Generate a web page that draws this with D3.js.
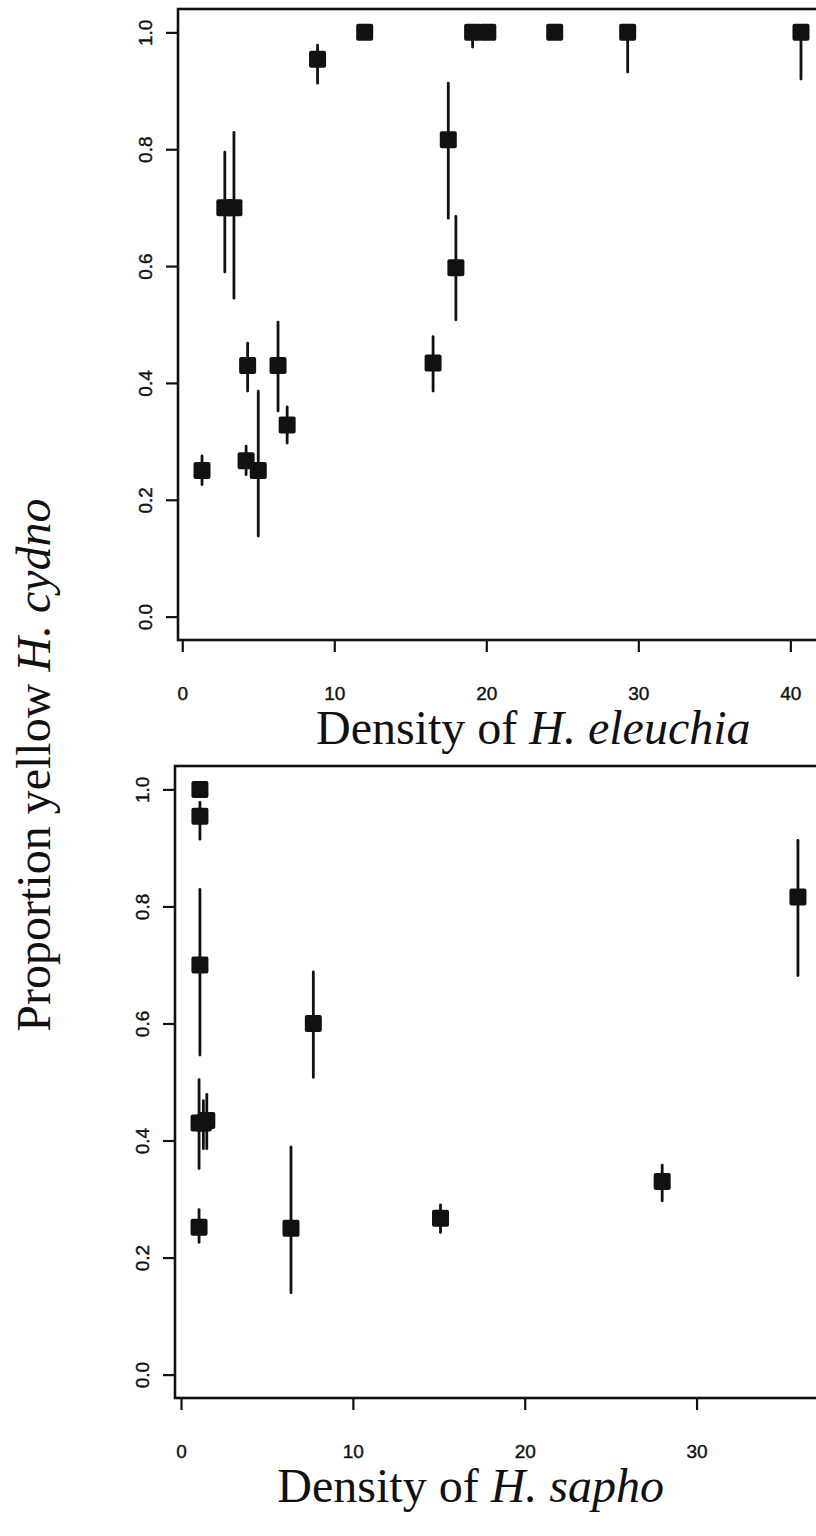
<!DOCTYPE html>
<html>
<head>
<meta charset="utf-8">
<script src="https://cdn.jsdelivr.net/npm/d3@7"></script>
<style>
  body { margin: 0; background: #fff; }
  svg { display: block; }
</style>
</head>
<body>
<div id="chart"></div>
<script>
// top panel: proportion yellow vs density of H. eleuchia
const eleuchiaX  = [1.3, 2.8, 3.4, 4.3, 4.2, 5.0, 6.3, 6.9, 8.9, 12.0, 16.5, 17.5, 18.0, 19.1, 20.1, 24.5, 29.3, 40.7];
const eleuchiaY  = [0.25, 0.70, 0.70, 0.43, 0.267, 0.25, 0.43, 0.328, 0.954, 1.0, 0.434, 0.816, 0.597, 1.0, 1.0, 1.0, 1.0, 1.0];
const eleuchiaLo = [0.226, 0.59, 0.545, 0.386, 0.243, 0.138, 0.352, 0.297, 0.913, 1.0, 0.386, 0.682, 0.508, 0.975, 1.0, 1.0, 0.932, 0.92];
const eleuchiaHi = [0.275, 0.795, 0.829, 0.468, 0.292, 0.386, 0.504, 0.359, 0.978, 1.0, 0.479, 0.913, 0.685, 1.0, 1.0, 1.0, 1.0, 1.0];

// bottom panel: proportion yellow vs density of H. sapho
const saphoX  = [1.1, 1.1, 1.1, 1.05, 1.3, 1.5, 1.05, 6.4, 7.7, 15.1, 28.0, 35.9];
const saphoY  = [1.0, 0.954, 0.70, 0.43, 0.43, 0.434, 0.252, 0.25, 0.60, 0.267, 0.33, 0.816];
const saphoLo = [1.0, 0.915, 0.546, 0.352, 0.386, 0.386, 0.226, 0.140, 0.508, 0.243, 0.297, 0.682];
const saphoHi = [1.0, 0.978, 0.829, 0.504, 0.468, 0.479, 0.282, 0.389, 0.688, 0.290, 0.358, 0.913];

const xTicksTop = [0, 10, 20, 30, 40];
const xTicksBottom = [0, 10, 20, 30];
const yTicks = [0, 0.2, 0.4, 0.6, 0.8, 1.0];

const width = 816, height = 1536;
const ink = "#111";
const sans = "'Liberation Sans', Arial, sans-serif";
const serif = "'Liberation Serif', 'Times New Roman', serif";

const svg = d3.select("#chart")
    .append("svg")
    .attr("width", width)
    .attr("height", height);

function zip(xs, ys, lo, hi) {
    return xs.map((x, i) => ({ x: x, y: ys[i], lo: lo[i], hi: hi[i] }));
}

function makePanel(opts) {
    const { data, box, xDomain, xTicks, title, italic } = opts;

    const x = d3.scaleLinear().domain(xDomain).range([box.left, box.right]);
    const y = d3.scaleLinear().domain([-0.04, 1.04]).range([box.bottom, box.top]);

    const g = svg.append("g");

    // plot frame
    g.append("rect")
        .attr("x", box.left)
        .attr("y", box.top)
        .attr("width", box.right - box.left)
        .attr("height", box.bottom - box.top)
        .attr("fill", "none")
        .attr("stroke", ink)
        .attr("stroke-width", 2.6);

    // y axis
    const yAxis = g.append("g")
        .attr("transform", `translate(${box.left}, 0)`)
        .call(d3.axisLeft(y).tickValues(yTicks).tickSize(12).tickFormat(d3.format(".1f")));
    yAxis.select(".domain").remove();
    yAxis.selectAll(".tick line").attr("stroke", ink).attr("stroke-width", 2.2);
    yAxis.selectAll(".tick text")
        .attr("x", 0)
        .attr("y", -26)
        .attr("dy", null)
        .attr("transform", "rotate(-90)")
        .attr("text-anchor", "middle")
        .attr("fill", ink)
        .attr("stroke", ink)
        .attr("stroke-width", 0.4)
        .style("font-family", sans)
        .style("font-size", "19px");

    // x axis
    const xAxis = g.append("g")
        .attr("transform", `translate(0, ${box.bottom})`)
        .call(d3.axisBottom(x).tickValues(xTicks).tickSize(12));
    xAxis.select(".domain").remove();
    xAxis.selectAll(".tick line").attr("stroke", ink).attr("stroke-width", 2.2);
    xAxis.selectAll(".tick text")
        .attr("y", 60)
        .attr("dy", null)
        .attr("fill", ink)
        .attr("stroke", ink)
        .attr("stroke-width", 0.4)
        .style("font-family", sans)
        .style("font-size", "19px");

    // error bars
    g.selectAll(".err")
        .data(data)
        .enter()
        .append("line")
        .attr("class", "err")
        .attr("x1", (d) => x(d.x))
        .attr("x2", (d) => x(d.x))
        .attr("y1", (d) => y(d.lo))
        .attr("y2", (d) => y(d.hi))
        .attr("stroke", ink)
        .attr("stroke-width", 2.8)
        .attr("stroke-linecap", "round");

    // square markers
    const s = 17;
    g.selectAll(".pt")
        .data(data)
        .enter()
        .append("rect")
        .attr("class", "pt")
        .attr("x", (d) => x(d.x) - s / 2)
        .attr("y", (d) => y(d.y) - s / 2)
        .attr("width", s)
        .attr("height", s)
        .attr("rx", 2)
        .attr("fill", ink);

    // x axis title
    const t = g.append("text")
        .attr("x", title.x)
        .attr("y", title.y)
        .attr("text-anchor", title.anchor)
        .attr("fill", ink)
        .style("font-family", serif)
        .style("font-size", "48px");
    t.append("tspan").text("Density of ");
    t.append("tspan").style("font-style", "italic").text(italic);
}

makePanel({
    data: zip(eleuchiaX, eleuchiaY, eleuchiaLo, eleuchiaHi),
    box: { left: 178, right: 825, top: 9, bottom: 640 },
    xDomain: [-0.28, 42.28],
    xTicks: xTicksTop,
    title: { x: 316, y: 744, anchor: "start" },
    italic: "H. eleuchia",
});

makePanel({
    data: zip(saphoX, saphoY, saphoLo, saphoHi),
    box: { left: 175, right: 822, top: 766, bottom: 1398 },
    xDomain: [-0.35, 37.3],
    xTicks: xTicksBottom,
    title: { x: 664, y: 1502, anchor: "end" },
    italic: "H. sapho",
});

// shared y axis title
const yt = svg.append("text")
    .attr("transform", "translate(50, 765) rotate(-90)")
    .attr("text-anchor", "middle")
    .attr("fill", ink)
    .style("font-family", serif)
    .style("font-size", "48px");
yt.append("tspan").text("Proportion yellow ");
yt.append("tspan").style("font-style", "italic").text("H. cydno");
</script>
</body>
</html>
